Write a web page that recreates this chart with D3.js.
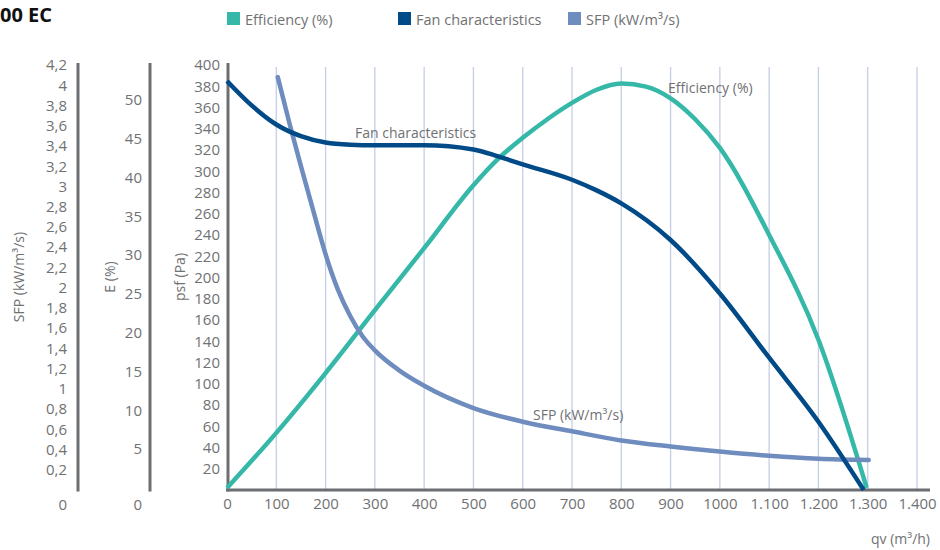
<!DOCTYPE html>
<html>
<head>
<meta charset="utf-8">
<script src="https://cdn.jsdelivr.net/npm/d3@7"></script>
<style>
  body { margin: 0; background: #fff; }
  svg text { font-family: 'Open Sans', sans-serif; fill: #707173; }
</style>
</head>
<body>
<div class="chart"></div>
<script>
// x axis: air flow qv (m3/h)
const qvTicks = [0, 100, 200, 300, 400, 500, 600, 700, 800, 900, 1000, 1100, 1200, 1300, 1400];
const qvLabels = ['0', '100', '200', '300', '400', '500', '600', '700', '800', '900', '1000', '1.100', '1.200', '1.300', '1.400'];

// left axes
const psfTicks = [20, 40, 60, 80, 100, 120, 140, 160, 180, 200, 220, 240, 260, 280, 300, 320, 340, 360, 380, 400];
const effTicks = [5, 10, 15, 20, 25, 30, 35, 40, 45, 50];
const sfpTicks = [0.2, 0.4, 0.6, 0.8, 1, 1.2, 1.4, 1.6, 1.8, 2, 2.2, 2.4, 2.6, 2.8, 3, 3.2, 3.4, 3.6, 3.8, 4, 4.2];
const sfpLabels = ['0,2', '0,4', '0,6', '0,8', '1', '1,2', '1,4', '1,6', '1,8', '2', '2,2', '2,4', '2,6', '2,8', '3', '3,2', '3,4', '3,6', '3,8', '4', '4,2'];

// series
const effQv  = [0, 100, 200, 300, 400, 500, 550, 600, 650, 700, 750, 800, 850, 900, 950, 1000, 1100, 1200, 1298];
const effVal = [0, 7.1, 14.8, 22.9, 30.9, 39.0, 42.4, 45.1, 47.5, 49.6, 51.3, 52.1, 51.7, 50.2, 47.5, 43.8, 32.6, 19.1, 0];

const fanQv  = [0, 50, 100, 150, 200, 250, 300, 400, 500, 550, 600, 700, 750, 800, 900, 1000, 1100, 1200, 1292];
const fanPsf = [385, 362, 344, 333, 327, 325, 324.5, 324.5, 320.5, 314, 306.5, 292, 282, 269.8, 235.3, 185, 124.5, 64.3, 0];

const sfpQv  = [103, 128, 150, 175, 200, 225, 250, 275, 300, 350, 400, 500, 600, 700, 800, 900, 1000, 1100, 1200, 1302];
const sfpVal = [4.08, 3.6, 3.2, 2.76, 2.33, 1.98, 1.72, 1.52, 1.38, 1.18, 1.03, 0.81, 0.675, 0.58, 0.49, 0.43, 0.38, 0.338, 0.308, 0.296];

const legendItems = ['Efficiency (%)', 'Fan characteristics', 'SFP (kW/m³/s)'];

(function() {
  'use strict';

  let colors = { eff: '#35b8a8', fan: '#004a87', sfp: '#6f8cbf', axis: '#6d6e71', grid: '#c5cee6' },

      svg = d3.select('.chart')
        .append('svg')
        .attr('width', 940)
        .attr('height', 550),

      x = d3.scaleLinear().domain([0, 1400]).range([227, 917]),
      yPsf = d3.scaleLinear().domain([0, 400]).range([490, 65]),
      yEff = d3.scaleLinear().domain([0, 55]).range([488, 61]),
      ySfp = d3.scaleLinear().domain([0, 4.2]).range([490, 65]),

      line = (xs, ys, yScale) => d3.line()
        .x((d, i) => x(xs[i]))
        .y(d => yScale(d))
        .curve(d3.curveMonotoneX)(ys);

  // title (cut off at the left edge in the original)
  svg.append('text')
    .attr('x', 0).attr('y', 22)
    .style('font-size', '20px').style('font-weight', 'bold').style('fill', '#111')
    .text('00 EC');

  // legend
  const legendX = [227, 398, 568],
        legendColors = [colors.eff, colors.fan, colors.sfp];
  legendItems.forEach((t, i) => {
    svg.append('rect')
      .attr('x', legendX[i]).attr('y', 12).attr('width', 13).attr('height', 13)
      .attr('fill', legendColors[i]);
    svg.append('text')
      .attr('x', legendX[i] + 18).attr('y', 24.5)
      .style('font-size', '14.5px')
      .text(t);
  });

  // vertical grid
  svg.append('g').selectAll('line')
    .data(qvTicks.filter(d => d > 0))
    .enter().append('line')
    .attr('x1', d => x(d)).attr('x2', d => x(d))
    .attr('y1', 67).attr('y2', 490)
    .attr('stroke', colors.grid).attr('stroke-width', 1.3);

  // x axis
  const xAxis = svg.append('g')
    .attr('transform', 'translate(0,490)')
    .call(d3.axisBottom(x).tickValues(qvTicks).tickFormat((d, i) => qvLabels[i]).tickSize(0).tickPadding(8));
  xAxis.select('.domain').remove();
  xAxis.selectAll('text').style('font-size', '15px').attr('fill', null);

  svg.append('line')
    .attr('x1', 226).attr('x2', 930).attr('y1', 490).attr('y2', 490)
    .attr('stroke', colors.axis).attr('stroke-width', 3);

  svg.append('text')
    .attr('x', 930).attr('y', 544)
    .attr('text-anchor', 'end')
    .style('font-size', '14px')
    .text('qv (m³/h)');

  // left value axes
  const leftAxis = (xPos, scale, ticks, fmt, title, titleX, pad) => {
    const g = svg.append('g')
      .attr('transform', `translate(${xPos},0)`)
      .call(d3.axisLeft(scale).tickValues(ticks).tickFormat(fmt).tickSize(0).tickPadding(pad));
    g.select('.domain').remove();
    g.selectAll('text').style('font-size', '15px').attr('fill', null);

    svg.append('line')
      .attr('x1', xPos).attr('x2', xPos).attr('y1', 63).attr('y2', 491.5)
      .attr('stroke', colors.axis).attr('stroke-width', 3);

    svg.append('text')
      .attr('transform', `translate(${titleX},277) rotate(-90)`)
      .attr('text-anchor', 'middle')
      .style('font-size', '14px')
      .text(title);
  };

  leftAxis(228, yPsf, psfTicks, d => d, 'psf (Pa)', 185, 8);
  leftAxis(150, yEff, effTicks, d => d, 'E (%)', 115, 8);
  leftAxis(78, ySfp, sfpTicks, (d, i) => sfpLabels[i], 'SFP (kW/m³/s)', 24, 11);

  // zero labels of the left axes sit on the x tick row
  [[67, '0'], [142, '0']].forEach(z => {
    svg.append('text')
      .attr('x', z[0]).attr('y', 510)
      .attr('text-anchor', 'end')
      .style('font-size', '15px')
      .text(z[1]);
  });

  // curves
  svg.append('path')
    .attr('d', line(effQv, effVal, yEff))
    .attr('fill', 'none').attr('stroke', colors.eff).attr('stroke-width', 4.5);

  svg.append('path')
    .attr('d', line(sfpQv, sfpVal, ySfp))
    .attr('fill', 'none').attr('stroke', colors.sfp).attr('stroke-width', 4.5)
    .attr('stroke-linecap', 'round');

  svg.append('path')
    .attr('d', line(fanQv, fanPsf, yPsf))
    .attr('fill', 'none').attr('stroke', colors.fan).attr('stroke-width', 4.5);

  // curve labels
  [['Efficiency (%)', 668, 93], ['Fan characteristics', 355, 138], ['SFP (kW/m³/s)', 533, 420]].forEach(l => {
    svg.append('text')
      .attr('x', l[1]).attr('y', l[2])
      .style('font-size', '14px')
      .text(l[0]);
  });

})();
</script>
</body>
</html>
